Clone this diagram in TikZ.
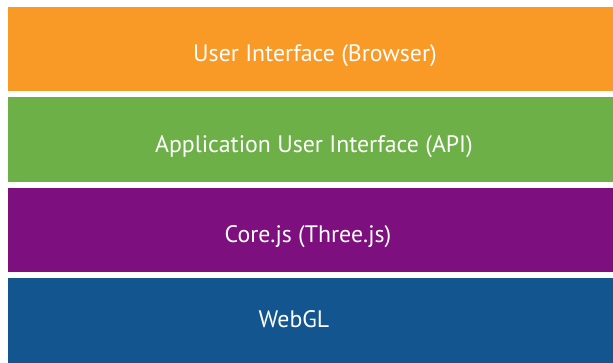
\documentclass[tikz,border=0pt]{standalone}
\usepackage{fontspec}
\setmainfont{PT Sans}
\definecolor{layorange}{HTML}{F99A27}
\definecolor{laygreen}{HTML}{6DB048}
\definecolor{laypurple}{HTML}{7E0F7E}
\definecolor{layblue}{HTML}{13568F}
\begin{document}
\begin{tikzpicture}[x=1pt,y=1pt,
  layer/.style={fill=#1,draw=none},
  ltext/.style={text=white,font=\fontsize{23.8}{28}\selectfont,anchor=base,inner sep=0pt}]
\useasboundingbox (0,0) rectangle (613,363);
\fill[white] (0,0) rectangle (613,363);
\path[layer=layorange] (8,272) rectangle (613,356);
\path[layer=laygreen] (8,181) rectangle (613,266);
\path[layer=laypurple] (8,91) rectangle (613,175);
\path[layer=layblue] (8,0) rectangle (613,85);
\node[ltext] (ui) at (315,301) {User Interface (Browser)};
\node[ltext] (api) at (314,210) {Application User Interface (API)};
\node[ltext] (core) at (308,120) {Core.js (Three.js)};
\node[ltext] (gl) at (294,35) {WebGL};
\end{tikzpicture}
\end{document}
